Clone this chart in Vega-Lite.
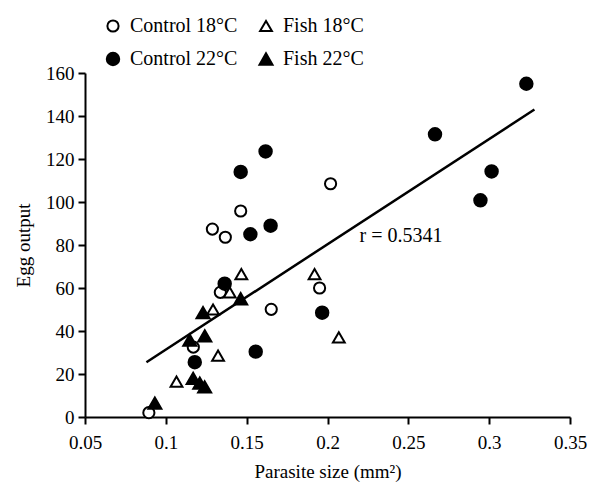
{
  "$schema": "https://vega.github.io/schema/vega-lite/v6.json",
  "width": 485,
  "height": 344,
  "autosize": {"type": "none"},
  "padding": {"left": 85, "top": 73, "right": 25, "bottom": 67},
  "background": "white",
  "config": {
    "font": "Liberation Serif",
    "view": {"stroke": null},
    "axis": {
      "grid": false,
      "domainColor": "black",
      "domainWidth": 2,
      "tickColor": "black",
      "tickWidth": 2,
      "tickSize": 7,
      "labelFont": "Liberation Serif",
      "labelFontSize": 19,
      "labelColor": "black",
      "titleFont": "Liberation Serif",
      "titleFontSize": 19,
      "titleFontWeight": "normal",
      "titleColor": "black"
    },
    "legend": {
      "title": null,
      "orient": "none",
      "direction": "horizontal",
      "legendX": 18,
      "legendY": -57,
      "columns": 2,
      "columnPadding": 17,
      "rowPadding": 12,
      "symbolStrokeWidth": 2,
      "symbolStrokeColor": "black",
      "labelFont": "Liberation Serif",
      "labelFontSize": 20,
      "labelColor": "black",
      "labelOffset": 7
    }
  },
  "datasets": {
    "points": [
      {"size": 0.0895, "egg": 2, "group": "Control 18°C"},
      {"size": 0.117, "egg": 32.5, "group": "Control 18°C"},
      {"size": 0.1337, "egg": 58, "group": "Control 18°C"},
      {"size": 0.1288, "egg": 87.4, "group": "Control 18°C"},
      {"size": 0.1368, "egg": 83.6, "group": "Control 18°C"},
      {"size": 0.1463, "egg": 95.8, "group": "Control 18°C"},
      {"size": 0.1652, "egg": 50.1, "group": "Control 18°C"},
      {"size": 0.2019, "egg": 108.5, "group": "Control 18°C"},
      {"size": 0.1951, "egg": 60, "group": "Control 18°C"},
      {"size": 0.1066, "egg": 16.5, "group": "Fish 18°C"},
      {"size": 0.1323, "egg": 28.5, "group": "Fish 18°C"},
      {"size": 0.1292, "egg": 50, "group": "Fish 18°C"},
      {"size": 0.1395, "egg": 58, "group": "Fish 18°C"},
      {"size": 0.1467, "egg": 66.5, "group": "Fish 18°C"},
      {"size": 0.192, "egg": 66.5, "group": "Fish 18°C"},
      {"size": 0.207, "egg": 37, "group": "Fish 18°C"},
      {"size": 0.1179, "egg": 25.5, "group": "Control 22°C"},
      {"size": 0.1364, "egg": 62, "group": "Control 22°C"},
      {"size": 0.1556, "egg": 30.4, "group": "Control 22°C"},
      {"size": 0.1523, "egg": 85, "group": "Control 22°C"},
      {"size": 0.1648, "egg": 89, "group": "Control 22°C"},
      {"size": 0.1463, "egg": 114, "group": "Control 22°C"},
      {"size": 0.1617, "egg": 123.5, "group": "Control 22°C"},
      {"size": 0.1967, "egg": 48.5, "group": "Control 22°C"},
      {"size": 0.2665, "egg": 131.5, "group": "Control 22°C"},
      {"size": 0.2946, "egg": 100.8, "group": "Control 22°C"},
      {"size": 0.3015, "egg": 114.2, "group": "Control 22°C"},
      {"size": 0.323, "egg": 155, "group": "Control 22°C"},
      {"size": 0.0932, "egg": 6.5, "group": "Fish 22°C"},
      {"size": 0.1148, "egg": 35.8, "group": "Fish 22°C"},
      {"size": 0.123, "egg": 48.5, "group": "Fish 22°C"},
      {"size": 0.1241, "egg": 37.7, "group": "Fish 22°C"},
      {"size": 0.1463, "egg": 55, "group": "Fish 22°C"},
      {"size": 0.1169, "egg": 18, "group": "Fish 22°C"},
      {"size": 0.121, "egg": 15.8, "group": "Fish 22°C"},
      {"size": 0.124, "egg": 14, "group": "Fish 22°C"}
    ],
    "fit": [
      {"size": 0.088, "egg": 25.5},
      {"size": 0.328, "egg": 143}
    ],
    "label": [
      {"size": 0.2198, "egg": 84, "text": "r = 0.5341"}
    ]
  },
  "layer": [
    {
      "data": {"name": "fit"},
      "mark": {"type": "line", "color": "black", "strokeWidth": 2.5},
      "encoding": {
        "x": {"field": "size", "type": "quantitative"},
        "y": {"field": "egg", "type": "quantitative"}
      }
    },
    {
      "data": {"name": "points"},
      "mark": {"type": "point", "filled": false, "strokeWidth": 2, "opacity": 1},
      "encoding": {
        "x": {
          "field": "size", "type": "quantitative",
          "scale": {"domain": [0.05, 0.35], "nice": false, "zero": false},
          "axis": {"values": [0.05, 0.1, 0.15, 0.2, 0.25, 0.3, 0.35], "format": "~g", "title": "Parasite size (mm²)", "titlePadding": 10, "labelPadding": 9, "labelFlush": false}
        },
        "y": {
          "field": "egg", "type": "quantitative",
          "scale": {"domain": [0, 160], "nice": false},
          "axis": {"values": [0, 20, 40, 60, 80, 100, 120, 140, 160], "title": "Egg output", "titlePadding": 12, "labelPadding": 4}
        },
        "shape": {
          "field": "group", "type": "nominal",
          "scale": {"domain": ["Control 18°C", "Fish 18°C", "Control 22°C", "Fish 22°C"], "range": ["circle", "triangle-up", "circle", "triangle-up"]}
        },
        "fill": {
          "field": "group", "type": "nominal",
          "scale": {"domain": ["Control 18°C", "Fish 18°C", "Control 22°C", "Fish 22°C"], "range": ["white", "white", "black", "black"]}
        },
        "stroke": {
          "field": "group", "type": "nominal",
          "scale": {"domain": ["Control 18°C", "Fish 18°C", "Control 22°C", "Fish 22°C"], "range": ["black", "black", "black", "black"]}
        },
        "size": {
          "field": "group", "type": "nominal",
          "scale": {"domain": ["Control 18°C", "Fish 18°C", "Control 22°C", "Fish 22°C"], "range": [125, 170, 125, 170]}
        }
      }
    },
    {
      "data": {"name": "label"},
      "mark": {"type": "text", "align": "left", "baseline": "middle", "font": "Liberation Serif", "fontSize": 20, "color": "black"},
      "encoding": {
        "x": {"field": "size", "type": "quantitative"},
        "y": {"field": "egg", "type": "quantitative"},
        "text": {"field": "text"}
      }
    }
  ]
}
